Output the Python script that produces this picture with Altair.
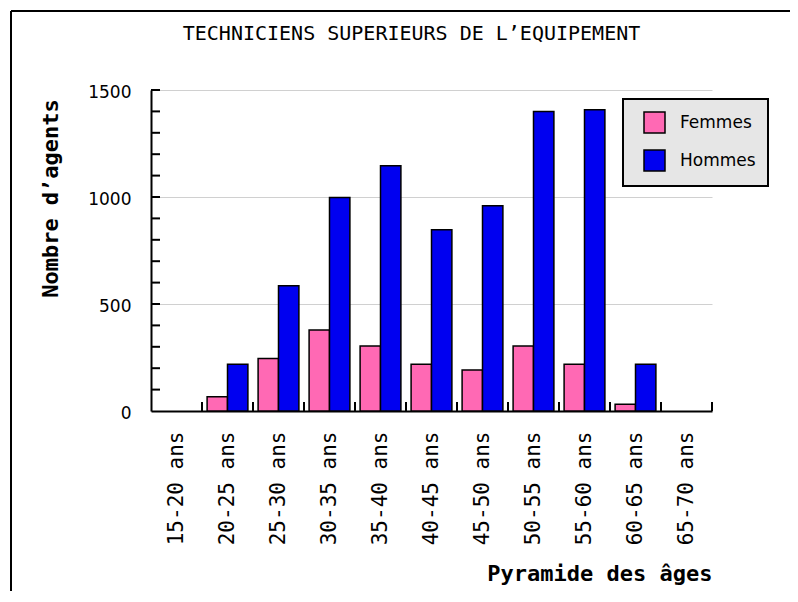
import altair as alt
import pandas as pd

ages = ["15-20 ans", "20-25 ans", "25-30 ans", "30-35 ans", "35-40 ans", "40-45 ans",
        "45-50 ans", "50-55 ans", "55-60 ans", "60-65 ans", "65-70 ans"]
femmes = [0, 67, 245, 379, 304, 218, 192, 304, 218, 31, 0]
hommes = [0, 218, 585, 998, 1146, 847, 959, 1400, 1408, 218, 0]
series = ["Femmes", "Hommes"]
colors = ["#FF69B4", "#0000F0"]
y_major = [0, 500, 1000, 1500]
y_minor = [100, 200, 300, 400, 500, 600, 700, 800, 900, 1000, 1100, 1200, 1300, 1400, 1500]

rows = []
for i, a in enumerate(ages):
    rows.append({"age": a, "sexe": "Femmes", "n": femmes[i]})
    rows.append({"age": a, "sexe": "Hommes", "n": hommes[i]})
df = pd.DataFrame(rows)

W, H = 561, 321
MONO = "DejaVu Sans Mono"

base = alt.Chart(df)

bars = base.transform_filter("datum.n > 0").mark_bar(stroke="black", strokeWidth=1.5).encode(
    x=alt.X("age:N", sort=ages,
            scale=alt.Scale(domain=ages, paddingInner=0, paddingOuter=0),
            axis=alt.Axis(labelAngle=-90, ticks=False, labelPadding=20,
                          labelFont=MONO, labelFontSize=21, labelColor="black",
                          labelBaseline="middle",
                          domainColor="black", domainWidth=2,
                          title="Pyramide des âges", titleFont=MONO, titleFontSize=22,
                          titleFontWeight="bold", titleColor="black",
                          titleX=W, titleY=169, titleAlign="right",
                          titleBaseline="alphabetic")),
    xOffset=alt.XOffset("sexe:N", sort=series,
                        scale=alt.Scale(domain=series, paddingOuter=0.25, paddingInner=0)),
    y=alt.Y("n:Q", scale=alt.Scale(domain=[0, 1500], nice=False),
            axis=alt.Axis(values=y_major, format="d", ticks=False, labelPadding=20,
                          labelFont="DejaVu Sans", labelFontSize=17, labelColor="black",
                          labelOffset=2,
                          domainColor="black", domainWidth=2,
                          grid=True, gridColor="#d0d0d0", gridWidth=1,
                          title="Nombre d’agents", titleFont=MONO, titleFontSize=22,
                          titleFontWeight="bold", titleColor="black",
                          titleAngle=-90, titleX=-94, titleY=108,
                          titleAlign="center", titleBaseline="alphabetic")),
    color=alt.Color("sexe:N", sort=series,
                    scale=alt.Scale(domain=series, range=colors),
                    legend=alt.Legend(title=None, orient="none", legendX=472, legendY=9,
                                      fillColor="#e6e6e6", strokeColor="black",
                                      padding=12, symbolOffset=8,
                                      symbolType="square", symbolSize=441,
                                      symbolStrokeColor="black", symbolStrokeWidth=1.5,
                                      symbolOpacity=1,
                                      labelFont="DejaVu Sans", labelFontSize=17,
                                      labelColor="black", labelOffset=14,
                                      rowPadding=11)),
)

# inner tick marks on the y axis (every 100)
ytick_df = pd.DataFrame({"v": y_minor})
y_ticks = alt.Chart(ytick_df).mark_rule(color="black", strokeWidth=2).encode(
    y=alt.Y("v:Q"), x=alt.value(0), x2=alt.value(9))

# inner tick marks on the x axis (at the end of each age band)
xtick_df = pd.DataFrame({"age": ages})
x_ticks = alt.Chart(xtick_df).mark_rule(color="black", strokeWidth=2).encode(
    x=alt.X("age:N", sort=ages, bandPosition=1),
    y=alt.value(H - 9), y2=alt.value(H))

one = alt.Data(values=[{"k": 1}])
frame_left = alt.Chart(one).mark_rule(color="black", strokeWidth=2).encode(
    x=alt.value(-140), y=alt.value(-79), y2=alt.value(600))
frame_top = alt.Chart(one).mark_rule(color="black", strokeWidth=2).encode(
    x=alt.value(-140), x2=alt.value(800), y=alt.value(-79))

chart = alt.layer(bars, y_ticks, x_ticks, frame_left, frame_top).properties(
    width=W, height=H,
    title=alt.Title("TECHNICIENS SUPERIEURS DE L’EQUIPEMENT", font=MONO, fontSize=20,
                    fontWeight="normal", color="black", anchor="middle",
                    frame="group", dx=-20, dy=36, offset=2),
    autosize=alt.AutoSizeParams(type="none"),
    padding={"left": 143, "top": 82, "right": 78, "bottom": 180},
    background="white",
).configure_view(strokeWidth=0).configure_legend(strokeWidth=2)

chart.save("out.html", embed_options={"renderer": "svg", "actions": False})
